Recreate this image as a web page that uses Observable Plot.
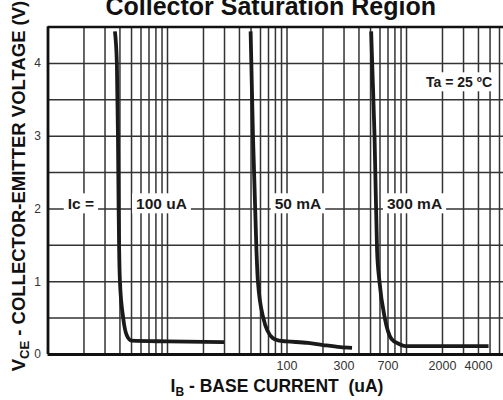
<!DOCTYPE html>
<html><head><meta charset="utf-8">
<script src="https://cdn.jsdelivr.net/npm/d3@7"></script>
<script src="https://cdn.jsdelivr.net/npm/@observablehq/plot@0.6"></script>
<style>
body{margin:0;background:#fff;font-family:"Liberation Sans",Arial,sans-serif;}
#chart{position:relative;width:503px;height:400px;overflow:hidden}
</style></head><body><div id="chart"></div>
<script>
// Ic = 100 uA
const ib100uA  = [3.63, 3.77, 3.85, 3.90, 3.94, 4.0, 4.26, 4.57, 5.0, 10, 29.7];
const vce100uA = [4.44, 4.0, 3.0, 2.0, 1.43, 1.0, 0.5, 0.26, 0.19, 0.18, 0.17];
// Ic = 50 mA
const ib50mA  = [49.6, 50.3, 51.9, 55.5, 57.1, 63.4, 75.4, 85.6, 99, 150, 200, 280, 350];
const vce50mA = [4.44, 4.0, 3.0, 1.43, 1.0, 0.5, 0.23, 0.19, 0.18, 0.16, 0.13, 0.10, 0.09];
// Ic = 300 mA
const ib300mA  = [506, 516, 540, 567, 594, 658, 748, 861, 980, 4860];
const vce300mA = [4.44, 4.0, 3.0, 1.43, 1.0, 0.5, 0.215, 0.147, 0.115, 0.115];

const xTickValues = [100, 300, 700, 2000, 4000];
const yTickValues = [0, 1, 2, 3, 4];

const labelText = ["Ic =", "100 uA", "50 mA", "300 mA"];
const labelIB   = [1.885, 8.91, 123.6, 1167];
const labelV    = [2.07, 2.07, 2.07, 2.07];
const noteText = ["Ta = 25 \u00BAC"];
const noteIB = [2750];
const noteV = [3.74];

const titleText = "Collector Saturation Region";

const xDomain = [1, 6480];
const yDomain = [0, 4.5];

const series = [
  {name: "100 uA", ib: ib100uA, v: vce100uA},
  {name: "50 mA", ib: ib50mA, v: vce50mA},
  {name: "300 mA", ib: ib300mA, v: vce300mA}
];
const rows = series.flatMap(s => s.ib.map((x, i) => ({s: s.name, ib: x, v: s.v[i]})));

const gridX = [];
for (let e = 0; e <= 3; e++) for (let k = 1; k <= 9; k++) {
  const v = k * 10 ** e;
  if (v > xDomain[0] && v <= xDomain[1]) gridX.push(v);
}
const gridY = d3.range(0.5, 4.5, 0.5);

const labels = labelText.map((t, i) => ({t, x: labelIB[i], y: labelV[i]}));
const notes = noteText.map((t, i) => ({t, x: noteIB[i], y: noteV[i]}));

const svg = Plot.plot({
  width: 503, height: 400,
  marginLeft: 47.5, marginRight: 0, marginTop: 26.5, marginBottom: 46,
  style: {fontFamily: "'Liberation Sans', Arial, sans-serif", background: "#fff", overflow: "visible"},
  x: {type: "log", domain: xDomain, axis: null},
  y: {domain: yDomain},
  marks: [
    Plot.ruleX(gridX, {stroke: "#333", strokeWidth: 1.5}),
    Plot.ruleY(gridY, {stroke: "#333", strokeWidth: 1.5}),
    Plot.ruleX([xDomain[0]], {stroke: "#111", strokeWidth: 2.8}),
    Plot.ruleY([yDomain[0]], {stroke: "#111", strokeWidth: 2.8}),
    Plot.ruleY([yDomain[1]], {stroke: "#111", strokeWidth: 2.6}),
    Plot.text(xTickValues, {x: d => d, frameAnchor: "bottom", dy: 15, text: d => String(d), fontSize: 12.5, fill: "#333"}),
    Plot.axisY(yTickValues, {tickFormat: d => String(d), tickSize: 0, tickPadding: 7, fontSize: 12, fill: "#333", label: null}),
    Plot.text(labels, {x: "x", y: "y", text: "t", fontSize: 15.5, fontWeight: "bold", fill: "#1a1a1a"}),
    Plot.text(notes, {x: "x", y: "y", text: "t", fontSize: 14, fontWeight: "bold", fill: "#1a1a1a"}),
    Plot.line(rows, {x: "ib", y: "v", z: "s", stroke: "#1a1a1a", strokeWidth: 3.8, curve: "monotone-x", strokeLinecap: "butt"}),
    Plot.text([titleText], {frameAnchor: "top", dy: -12, dx: -5, lineAnchor: "bottom", fontSize: 25, fontWeight: "bold", fill: "#111"})
  ]
});
document.getElementById("chart").appendChild(svg);

// white boxes behind the in-plot labels (2nd and 3rd text marks)
const textGroups = svg.querySelectorAll('g[aria-label="text"]');
const NS = "http://www.w3.org/2000/svg";
[textGroups[1], textGroups[2]].forEach(g => {
  if (!g) return;
  g.querySelectorAll("text").forEach(t => {
    const b = t.getBBox();
    const r = document.createElementNS(NS, "rect");
    r.setAttribute("x", b.x - 4);
    r.setAttribute("y", b.y - 1.5);
    r.setAttribute("width", b.width + 8);
    r.setAttribute("height", b.height + 3);
    r.setAttribute("fill", "#fff");
    if (t.getAttribute("transform")) r.setAttribute("transform", t.getAttribute("transform"));
    g.insertBefore(r, t);
  });
});

// axis titles with subscripts
const s = d3.select(svg);
const yl = s.append("text")
  .attr("transform", "translate(25,186) rotate(-90)")
  .attr("text-anchor", "middle")
  .attr("font-size", 18.5).attr("font-weight", "bold").attr("fill", "#111");
yl.append("tspan").text("V");
yl.append("tspan").attr("font-size", 13).attr("dy", 4).text("CE");
yl.append("tspan").attr("dy", -4).text(" - COLLECTOR-EMITTER VOLTAGE (V)");

const xl = s.append("text")
  .attr("x", 277).attr("y", 392)
  .attr("text-anchor", "middle")
  .attr("font-size", 17.5).attr("font-weight", "bold").attr("fill", "#111");
xl.append("tspan").text("I");
xl.append("tspan").attr("font-size", 12).attr("dy", 4).text("B");
xl.append("tspan").attr("dy", -4).text(" - BASE CURRENT  (uA)");
</script></body></html>
